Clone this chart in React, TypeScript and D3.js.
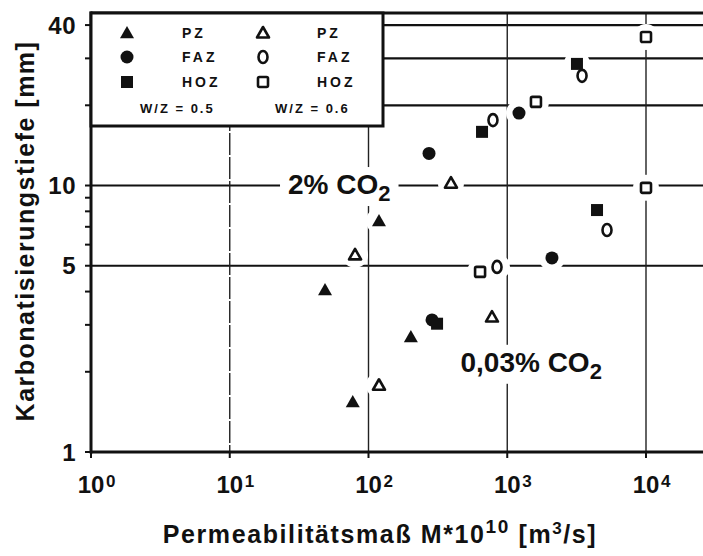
import { useRef, useEffect } from 'react';
import * as d3 from 'd3';

// Permeability M*10^10 [m3/s] vs. carbonation depth [mm]
// 2 % CO2 storage
const highPZ05 = [[48.6, 4.05], [119, 7.36]];
const highPZ06 = [[80, 5.49], [393, 10.2]];
const highFAZ05 = [[273, 13.2], [1215, 18.7]];
const highFAZ06 = [[789, 17.6], [3460, 25.8]];
const highHOZ05 = [[658, 15.9], [3180, 28.6]];
const highHOZ06 = [[1610, 20.6], [10000, 36.1]];
// 0.03 % CO2 storage
const lowPZ05 = [[77, 1.54], [202, 2.7]];
const lowPZ06 = [[119, 1.78], [776, 3.21]];
const lowFAZ05 = [[287, 3.13], [2100, 5.35]];
const lowFAZ06 = [[844, 4.95], [5236, 6.81]];
const lowHOZ05 = [[312, 3.03], [4436, 8.09]];
const lowHOZ06 = [[637, 4.74], [10000, 9.8]];

const xTicks = [1, 10, 100, 1000, 10000];
const xExponents = ['0', '1', '2', '3', '4'];
const yLabelTicks = [1, 5, 10, 40];
const yMinorTicks = [2, 3, 4, 6, 7, 8, 9, 20, 30];
const yGrid = [5, 10, 20, 30, 40];
const xGrid = [10, 100, 1000, 10000];

const FONT = '"Liberation Sans", Arial, sans-serif';

type Shape = 'triUp' | 'circle' | 'square';

export default function App() {
  const svgRef = useRef<SVGSVGElement>(null);

  useEffect(() => {
    if (!svgRef.current) return;
    const svg = d3.select(svgRef.current);
    svg.selectAll('*').remove();

    const left = 91, top = 13, bottom = 452;
    const decade = 138.75;

    const x = d3.scaleLog().domain([1, Math.pow(10, 4.45)]).range([left, left + 4.45 * decade]);
    const y = d3.scaleLog().domain([1, 44.4]).range([bottom, top]);
    const right = 703;

    const g = svg.append('g');

    // grid
    g.selectAll('.hgrid')
      .data(yGrid)
      .enter().append('line')
      .attr('x1', left).attr('x2', right)
      .attr('y1', d => y(d)).attr('y2', d => y(d))
      .attr('stroke', '#111').attr('stroke-width', 2.2);

    g.selectAll('.vgrid')
      .data(xGrid)
      .enter().append('line')
      .attr('x1', d => x(d)).attr('x2', d => x(d))
      .attr('y1', top).attr('y2', bottom)
      .attr('stroke', '#222').attr('stroke-width', 1.4)
      .attr('stroke-dasharray', d => (d === 10 ? '22,2' : null));

    // series
    const series: { data: number[][]; shape: Shape; filled: boolean }[] = [
      { data: [...highPZ05, ...lowPZ05], shape: 'triUp', filled: true },
      { data: [...highPZ06, ...lowPZ06], shape: 'triUp', filled: false },
      { data: [...highFAZ05, ...lowFAZ05], shape: 'circle', filled: true },
      { data: [...highFAZ06, ...lowFAZ06], shape: 'circle', filled: false },
      { data: [...highHOZ05, ...lowHOZ05], shape: 'square', filled: true },
      { data: [...highHOZ06, ...lowHOZ06], shape: 'square', filled: false },
    ];

    // white halos break the grid lines around the marks
    const allPts = series.flatMap(s => s.data);
    g.selectAll('.halo')
      .data(allPts)
      .enter().append('circle')
      .attr('cx', d => x(d[0]))
      .attr('cy', d => y(d[1]))
      .attr('r', 13)
      .attr('fill', '#fff');

    // text labels inside the plot, with a white box behind them
    const addLabel = (main: string, sub: string, vx: number, vy: number) => {
      const lg = g.append('g');
      const t = lg.append('text')
        .attr('x', x(vx)).attr('y', y(vy))
        .attr('font-family', FONT).attr('font-weight', 'bold')
        .attr('font-size', 28).attr('fill', '#111');
      t.append('tspan').text(main);
      t.append('tspan').attr('font-size', 22).attr('dy', 7).text(sub);
      const bb = (t.node() as SVGTextElement).getBBox();
      lg.insert('rect', 'text')
        .attr('x', bb.x - 8).attr('y', bb.y - 2)
        .attr('width', bb.width + 16).attr('height', bb.height + 2)
        .attr('fill', '#fff');
    };
    addLabel('2% CO', '2', 26.3, 9.29);
    addLabel('0,03% CO', '2', 460, 2.0);

    const drawMarker = (sel: d3.Selection<SVGGElement, unknown, null, undefined>, shape: Shape, filled: boolean, cx: number, cy: number) => {
      const fill = filled ? '#111' : 'none';
      const sw = filled ? 0 : 2.6;
      if (shape === 'triUp') {
        const s = filled ? 7 : 6;
        sel.append('path')
          .attr('d', `M${cx},${cy - s} L${cx + s},${cy + s * 0.75} L${cx - s},${cy + s * 0.75}Z`)
          .attr('fill', fill).attr('stroke', '#111').attr('stroke-width', sw)
          .attr('stroke-linejoin', 'round');
      } else if (shape === 'circle') {
        if (filled) {
          sel.append('circle').attr('cx', cx).attr('cy', cy).attr('r', 6.5).attr('fill', fill);
        } else {
          sel.append('ellipse').attr('cx', cx).attr('cy', cy).attr('rx', 4.5).attr('ry', 6)
            .attr('fill', 'none').attr('stroke', '#111').attr('stroke-width', sw);
        }
      } else {
        if (filled) {
          sel.append('rect').attr('x', cx - 6).attr('y', cy - 6).attr('width', 12).attr('height', 12).attr('fill', fill);
        } else {
          sel.append('rect').attr('x', cx - 5).attr('y', cy - 5).attr('width', 10).attr('height', 10)
            .attr('rx', 1.5)
            .attr('fill', 'none').attr('stroke', '#111').attr('stroke-width', sw);
        }
      }
    };

    const marks = g.append('g');
    series.forEach(s => {
      s.data.forEach(d => drawMarker(marks, s.shape, s.filled, x(d[0]), y(d[1])));
    });

    // frame
    g.append('line').attr('x1', left).attr('x2', left).attr('y1', top - 1.5).attr('y2', bottom + 1.5)
      .attr('stroke', '#111').attr('stroke-width', 3);
    g.append('line').attr('x1', left).attr('x2', right).attr('y1', bottom).attr('y2', bottom)
      .attr('stroke', '#111').attr('stroke-width', 3);
    g.append('line').attr('x1', left).attr('x2', right).attr('y1', top).attr('y2', top)
      .attr('stroke', '#111').attr('stroke-width', 3);

    // y ticks
    g.selectAll('.ytick')
      .data([...yLabelTicks, ...yMinorTicks])
      .enter().append('line')
      .attr('x1', left - 6).attr('x2', left)
      .attr('y1', d => y(d)).attr('y2', d => y(d))
      .attr('stroke', '#111').attr('stroke-width', 2);

    g.selectAll('.ylabel')
      .data(yLabelTicks)
      .enter().append('text')
      .attr('x', left - 15)
      .attr('y', d => y(d))
      .attr('dy', '0.36em')
      .attr('text-anchor', 'end')
      .attr('font-family', FONT).attr('font-weight', 'bold').attr('font-size', 24)
      .attr('letter-spacing', 0.5)
      .attr('fill', '#111')
      .text(d => String(d));

    // x ticks
    g.selectAll('.xtick')
      .data(xTicks)
      .enter().append('line')
      .attr('x1', d => x(d)).attr('x2', d => x(d))
      .attr('y1', bottom).attr('y2', bottom + 6)
      .attr('stroke', '#111').attr('stroke-width', 2);

    xTicks.forEach((d, i) => {
      g.append('text')
        .attr('x', x(d)).attr('y', 493)
        .attr('text-anchor', 'middle')
        .attr('font-family', FONT).attr('font-weight', 'bold').attr('font-size', 24)
        .attr('fill', '#111')
        .text('10');
      g.append('text')
        .attr('x', x(d) + 15).attr('y', 487)
        .attr('font-family', FONT).attr('font-weight', 'bold').attr('font-size', 17)
        .attr('fill', '#111')
        .text(xExponents[i]);
    });

    // axis titles
    const xt = g.append('text')
      .attr('x', 380).attr('y', 543)
      .attr('text-anchor', 'middle')
      .attr('font-family', FONT).attr('font-weight', 'bold').attr('font-size', 25)
      .attr('letter-spacing', 1.6)
      .attr('fill', '#111');
    xt.append('tspan').text('Permeabilitätsmaß M*10');
    xt.append('tspan').attr('font-size', 19).attr('dy', -10).text('10');
    xt.append('tspan').attr('dy', 10).text(' [m');
    xt.append('tspan').attr('font-size', 17).attr('dy', -9).text('3');
    xt.append('tspan').attr('dy', 9).text('/s]');

    g.append('text')
      .attr('transform', 'translate(34,231) rotate(-90)')
      .attr('text-anchor', 'middle')
      .attr('font-family', FONT).attr('font-weight', 'bold').attr('font-size', 25)
      .attr('letter-spacing', 1.5)
      .attr('fill', '#111')
      .text('Karbonatisierungstiefe [mm]');

    // legend box
    const lx0 = left, ly0 = top, lx1 = 383, ly1 = 126;
    const leg = g.append('g');
    leg.append('rect')
      .attr('x', lx0).attr('y', ly0).attr('width', lx1 - lx0).attr('height', ly1 - ly0)
      .attr('fill', '#fff').attr('stroke', '#111').attr('stroke-width', 3);

    const legRows: { shape: Shape; name: string }[] = [
      { shape: 'triUp', name: 'PZ' },
      { shape: 'circle', name: 'FAZ' },
      { shape: 'square', name: 'HOZ' },
    ];
    const rowY = [33, 57, 82];
    const cols = [
      { sym: 127, text: 182, filled: true, wz: 'W/Z = 0.5', wzX: 140 },
      { sym: 263, text: 317, filled: false, wz: 'W/Z = 0.6', wzX: 275 },
    ];
    cols.forEach(c => {
      legRows.forEach((r, i) => {
        drawMarker(leg, r.shape, c.filled, c.sym, rowY[i]);
        leg.append('text')
          .attr('x', c.text).attr('y', rowY[i]).attr('dy', '0.36em')
          .attr('font-family', FONT).attr('font-weight', 'bold').attr('font-size', 14)
          .attr('letter-spacing', 3)
          .attr('fill', '#111')
          .text(r.name);
      });
      leg.append('text')
        .attr('x', c.wzX).attr('y', 108).attr('dy', '0.36em')
        .attr('font-family', FONT).attr('font-weight', 'bold').attr('font-size', 13)
        .attr('letter-spacing', 2)
        .attr('fill', '#111')
        .text(c.wz);
    });
  }, []);

  return (
    <div style={{ width: 703, height: 556, overflow: 'hidden', position: 'absolute', left: 0, top: 0, background: '#fff' }}>
      <svg ref={svgRef} width={703} height={556} />
    </div>
  );
}
